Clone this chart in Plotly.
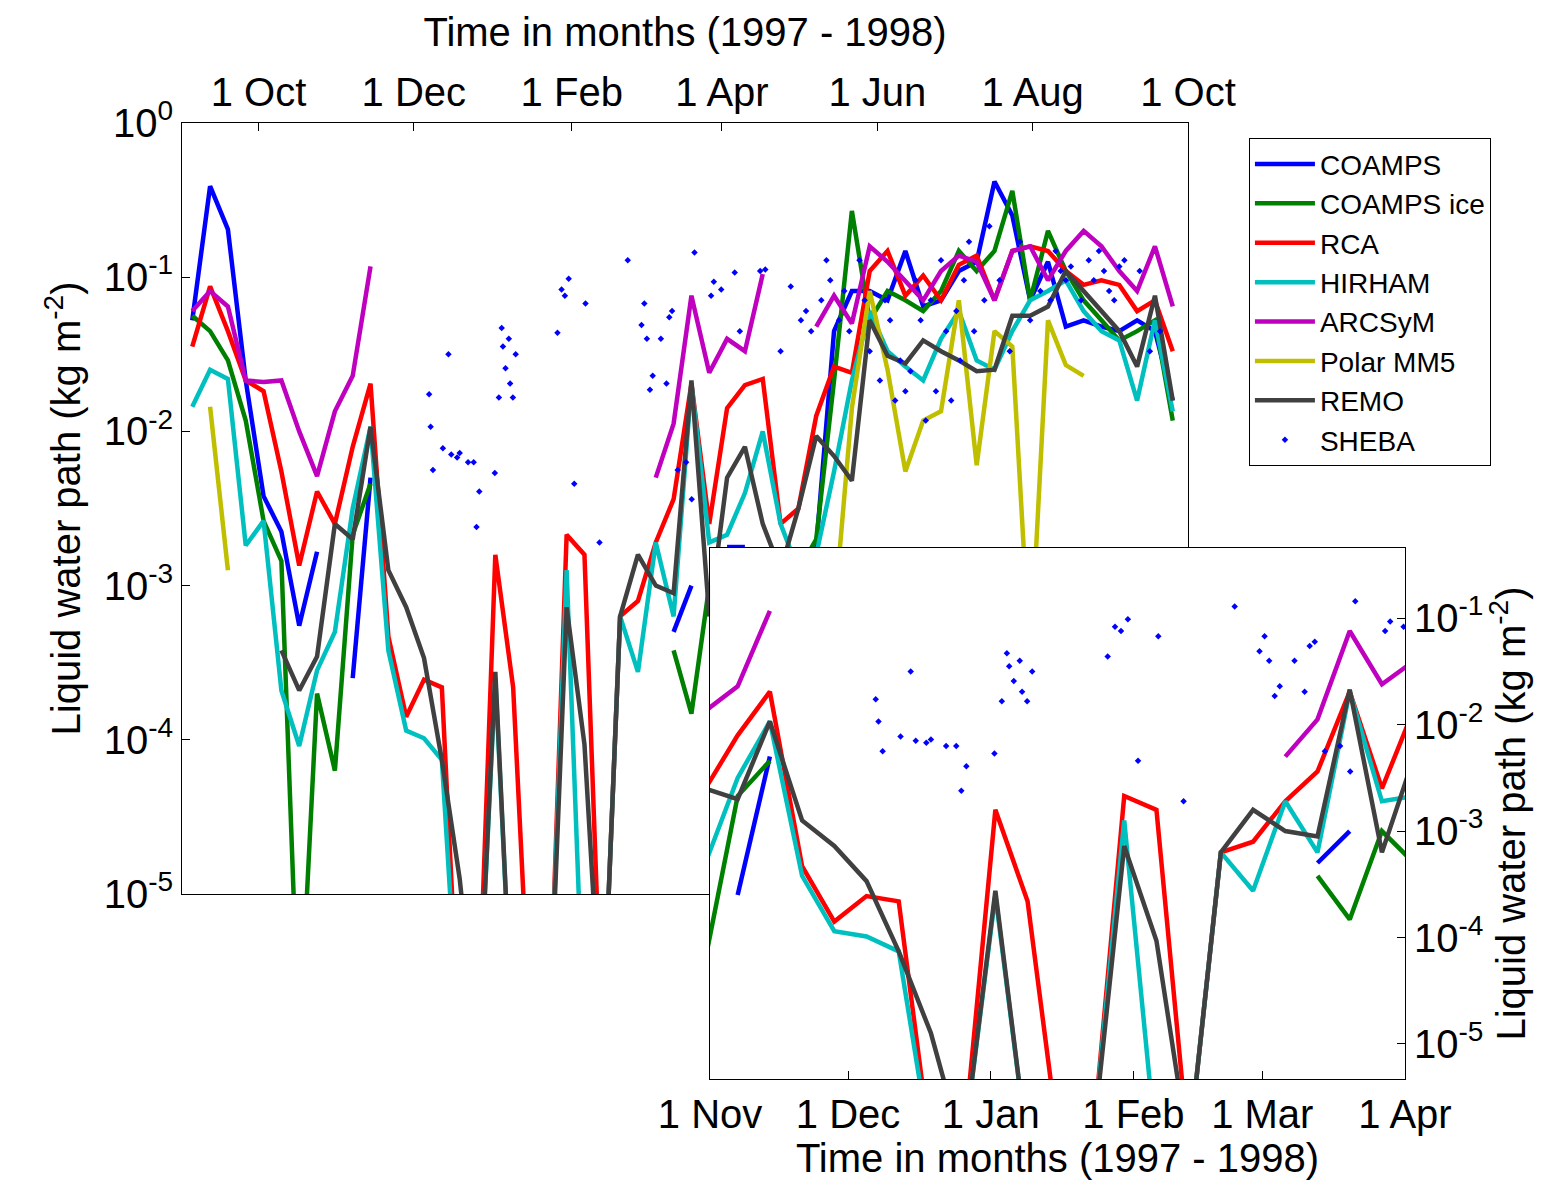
import plotly.graph_objects as go
import pandas as pd
import numpy as np

# weekly model output, log10 of liquid water path (kg m^-2); None = gap, -6 = below axis
start = "1997-09-05"
coamps = [-1.28,-0.41,-0.69,-1.67,-2.42,-2.65,-3.26,-2.78,None,-3.6,-2.3]+[None]*16+[-3.3,-3.0,None,-2.75,-2.75,None,None,None,
          -2.75,-1.35,-1.09,-1.09,-1.15,-0.83,-1.19,-1.15,-0.96,-0.9,-0.38,-0.6,-1.15,-0.9,-1.32,-1.28,-1.32,-1.35,-1.28,-1.35,-1.8]
coamps_ice = [-1.25,-1.35,-1.54,-1.93,-2.58,-2.84,-6,-3.7,-4.2,-2.67,-2.34]+[None]*16+[-3.42,-3.83,-3.0,-3.3,-3.5,-3.8,-3.2,-2.9,
          -2.7,-1.67,-0.57,-1.28,-1.09,-1.15,-1.22,-1.09,-0.83,-0.96,-0.83,-0.44,-1.15,-0.7,-0.96,-1.15,-1.28,-1.41,-1.35,-1.28,-1.93]
rca = [-1.45,-1.06,-1.35,-1.67,-1.74,-2.26,-2.87,-2.39,-2.6,-2.1,-1.69,-3.33,-3.85,-3.61,-3.66,-6,-6,-2.8,-3.66,-6,-6,-2.67,-2.8,-6,
       -3.2,-3.1,-2.72,-2.44,-1.69,-2.6,-1.85,-1.7,-1.66,-2.6,-2.5,-1.9,-1.58,-1.62,-0.96,-0.83,-1.12,-0.99,-1.15,-0.92,-0.86,-1.15,
       -0.83,-0.8,-0.83,-0.96,-1.05,-1.02,-1.05,-1.22,-1.15,-1.48]
hirham = [-1.84,-1.6,-1.66,-2.74,-2.58,-3.68,-4.04,-3.55,-3.3,-2.5,-1.97,-3.42,-3.94,-3.99,-4.13,-6,-6,-3.6,-6,-6,-6,-2.9,-6,-6,
          -3.2,-3.56,-2.72,-3.2,-1.69,-2.72,-2.67,-2.4,-2.0,-2.6,-2.9,-2.8,-2.26,-1.67,-1.22,-1.48,-1.58,-1.67,-1.4,-1.22,-1.54,-1.6,
          -1.35,-1.15,-1.09,-1.02,-1.22,-1.35,-1.41,-1.8,-1.28,-1.87]
arcsym = [-1.22,-1.09,-1.19,-1.67,-1.68,-1.67,-2.0,-2.29,-1.87,-1.64,-0.93]+[None]*15+[-2.3,-1.95,-1.12,-1.62,-1.4,-1.48,-0.98,None,None,
          -1.32,-1.12,-1.3,-0.8,-0.9,-1.03,-1.15,-0.96,-0.86,-0.9,-1.15,-0.83,-0.8,-1.02,-0.83,-0.7,-0.8,-0.96,-1.09,-0.8,-1.19]
polarmm5 = [None,-1.84,-2.9]+[None]*33+[-3.2,-1.85,-1.09,-1.6,-2.26,-1.93,-1.87,-1.15,-2.22,-1.35,-1.45,-3.5,-1.28,-1.57,-1.64]+[None]*5
remo = [None,None,None,None,None,-3.42,-3.68,-3.46,-2.6,-2.7,-1.97,-2.9,-3.14,-3.47,-4.13,-4.9,-6,-3.56,-6,-6,-6,-3.14,-4.03,-6,
        -3.2,-2.8,-3.0,-3.05,-1.67,-3.2,-2.3,-2.1,-2.6,-2.9,-2.5,-2.03,-2.16,-2.32,-1.28,-1.51,-1.56,-1.41,-1.48,-1.54,-1.61,-1.6,
        -1.25,-1.25,-1.19,-0.96,-1.09,-1.22,-1.35,-1.58,-1.12,-1.8]

# SHEBA observations: day offset from 1997-09-01, log10 LWP
sheba_day = [97,97.6,98.5,102.4,104.6,105.7,108,109,112.3,114.5,116.7,115.6,122.8,124.4,125.5,126,127,128.3,128.8,129.9,131,
             147.4,149,150.3,151.8,154,158.4,163.9,175,180.4,181.5,182.5,183.7,184.8,188,190.2,191.3,192.4,194.6,197.9,200.1,201.2,
             207.7,208.8,211.7,
             217,219,227,229,235,239,243,245,247,251,253,254.5,258,260,262,266,268,270,274,276,278,280,282,284,286,288,290,292,
             294,296,298,300,302,304,305.5,307,309,311,315,317,321,325,329,333,337,341,343,345,347,349,353,356,358,360,362,364,
             366,368,370,376,380,384]
sheba_log = [-1.76,-1.97,-2.25,-2.11,-1.5,-2.15,-2.17,-2.14,-2.2,-2.2,-2.39,-2.62,-2.27,-1.78,-1.33,-1.45,-1.59,-1.4,-1.69,-1.78,-1.5,
             -1.36,-1.08,-1.12,-1.01,-2.34,-1.17,-2.72,-0.89,-1.31,-1.17,-1.4,-1.73,-1.64,-1.4,-1.69,-1.26,-1.22,-2.25,-2.2,-2.44,-0.84,
             -1.12,-1.03,-1.08,
             -0.97,-1.35,-0.96,-0.95,-1.48,-1.06,-1.28,-1.22,-1.35,-1.15,-0.89,-1.02,-1.28,-1.09,-1.35,-0.89,-1.15,-1.48,-1.67,-1.15,
             -1.28,-1.8,-1.54,-1.74,-1.61,-1.02,-1.28,-1.93,-1.15,-1.74,-0.89,-1.35,-1.8,-1.22,-1.54,-1.02,-0.77,-1.35,-1.15,-0.67,
             -1.02,-1.48,-0.77,-1.28,-1.09,-1.15,-0.83,-0.96,-1.02,-0.93,-1.15,-0.89,-1.02,-0.83,-0.96,-1.09,-1.15,-0.93,-0.89,-0.96,
             -1.48,-1.35]

series = [("COAMPS", coamps, "#0000ff"), ("COAMPS ice", coamps_ice, "#008000"), ("RCA", rca, "#ff0000"),
          ("HIRHAM", hirham, "#00bfbf"), ("ARCSyM", arcsym, "#bf00bf"), ("Polar MM5", polarmm5, "#bfbf00"),
          ("REMO", remo, "#404040")]

dates = pd.date_range(start, periods=56, freq="7D")
sheba_dates = pd.Timestamp("1997-09-01") + pd.to_timedelta(sheba_day, unit="D")
sheba_vals = np.power(10.0, sheba_log)

fig = go.Figure()
for axes, show in (("main", True), ("inset", False)):
    xa, ya = ("x", "y") if axes == "main" else ("x2", "y2")
    for name, vals, col in series:
        v = [None if a is None else 10 ** a for a in vals]
        fig.add_trace(go.Scatter(x=dates, y=v, mode="lines", name=name, showlegend=show,
                                 line=dict(color=col, width=4.5), xaxis=xa, yaxis=ya, connectgaps=False))
    fig.add_trace(go.Scatter(x=sheba_dates, y=sheba_vals, mode="markers", name="SHEBA", showlegend=show,
                             marker=dict(color="#0000ff", size=5, symbol="diamond"), xaxis=xa, yaxis=ya))

F = "Liberation Sans, Arial, sans-serif"
main_ticks = ["1997-10-01", "1997-12-01", "1998-02-01", "1998-04-01", "1998-06-01", "1998-08-01", "1998-10-01"]
main_labels = ["1 Oct", "1 Dec", "1 Feb", "1 Apr", "1 Jun", "1 Aug", "1 Oct"]
inset_ticks = ["1997-11-01", "1997-12-01", "1998-01-01", "1998-02-01", "1998-03-01", "1998-04-01"]
inset_labels = ["1 Nov", "1 Dec", "1 Jan", "1 Feb", "1 Mar", "1 Apr"]
main_y = [1, 0.1, 0.01, 0.001, 1e-4, 1e-5]
main_y_lab = ["10<sup>0</sup>", "10<sup>-1</sup>", "10<sup>-2</sup>", "10<sup>-3</sup>", "10<sup>-4</sup>", "10<sup>-5</sup>"]

axcommon = dict(showline=True, linecolor="black", linewidth=1, mirror=True, ticks="inside", ticklen=8,
                tickcolor="black", showgrid=False, zeroline=False, automargin=False,
                tickfont=dict(size=40, color="black", family=F))

fig.update_layout(
    width=1557, height=1184, margin=dict(l=0, r=0, t=0, b=0),
    paper_bgcolor="white", plot_bgcolor="white", font=dict(family=F, color="black"),
    xaxis=dict(domain=[0.1118, 0.7579], range=["1997-09-01", "1998-10-01"], side="top", tickvals=main_ticks,
               ticktext=main_labels, title=dict(text="Time in months (1997 - 1998)", font=dict(size=40), standoff=10),
               **axcommon),
    yaxis=dict(domain=[0.2517, 0.9029], type="log", range=[-5, 0], tickvals=main_y, ticktext=main_y_lab,
               title=dict(text="Liquid water path (kg m<sup>-2</sup>)", font=dict(size=40), standoff=10), **axcommon),
    xaxis2=dict(domain=[0.4509, 0.8972], range=["1997-11-01", "1998-04-01"], anchor="y2", tickvals=inset_ticks,
                ticktext=inset_labels, title=dict(text="Time in months (1997 - 1998)", font=dict(size=40), standoff=4),
                **axcommon),
    yaxis2=dict(domain=[0.0954, 0.5439], type="log", range=[-5.33, -0.34], anchor="x2", side="right",
                tickvals=main_y[1:], ticktext=main_y_lab[1:],
                title=dict(text="Liquid water path (kg m<sup>-2</sup>)", font=dict(size=40), standoff=8), **axcommon),
    legend=dict(x=0.797, y=0.890, xanchor="left", yanchor="top", bordercolor="black", borderwidth=1,
                bgcolor="white", font=dict(size=28, family=F), itemwidth=60, tracegroupgap=2),
)
fig.write_html("out.html")
